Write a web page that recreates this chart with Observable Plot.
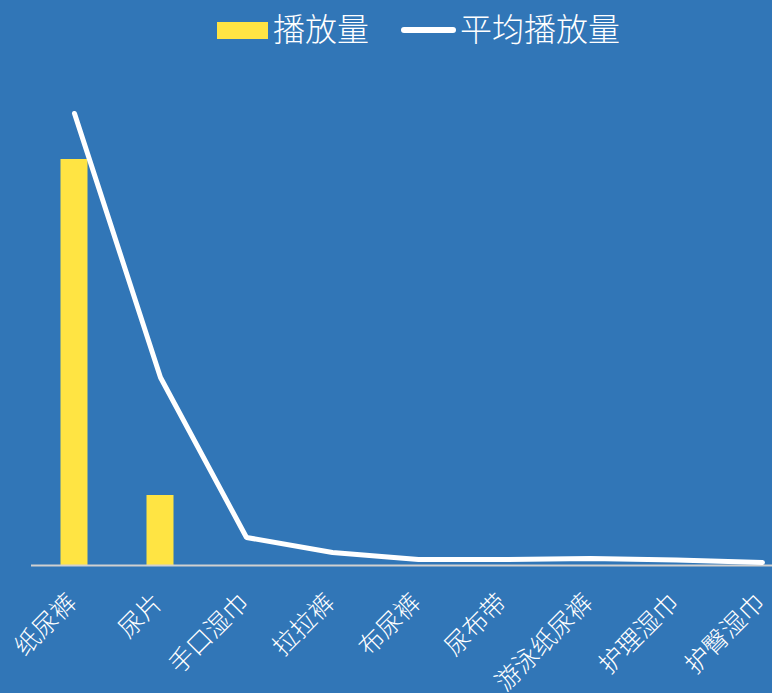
<!DOCTYPE html>
<html>
<head>
<meta charset="utf-8">
<script src="https://cdn.jsdelivr.net/npm/d3@7"></script>
<script src="https://cdn.jsdelivr.net/npm/@observablehq/plot@0.6"></script>
<style>
  html, body { margin: 0; padding: 0; background: #3176b7; overflow: hidden; width: 772px; height: 693px; }
  #legend { position: relative; width: 772px; height: 60px; font-family: "Noto Sans CJK SC", sans-serif; font-weight: 300; color: #fff; }
  #legend .sw-bar { position: absolute; left: 217px; top: 22px; width: 51px; height: 17px; background: #ffe443; }
  #legend .sw-line { position: absolute; left: 401px; top: 27px; width: 55px; height: 6px; border-radius: 3px; background: #fff; }
  #legend .lbl { position: absolute; font-size: 32px; line-height: 32px; top: 11px; white-space: nowrap; }
  #chart svg { display: block; }
</style>
</head>
<body>
<div id="legend">
  <div class="sw-bar"></div><span class="lbl" id="l1" style="left:273px"></span>
  <div class="sw-line"></div><span class="lbl" id="l2" style="left:460px"></span>
</div>
<div id="chart"></div>
<script>
const categories = ["纸尿裤", "尿片", "手口湿巾", "拉拉裤", "布尿裤", "尿布带", "游泳纸尿裤", "护理湿巾", "护臀湿巾"];
const plays = [4060, 700, 0, 0, 0, 0, 0, 0, 0];          // 播放量
const avgPlays = [4520, 1880, 280, 130, 60, 60, 70, 55, 30]; // 平均播放量
const seriesNames = ["播放量", "平均播放量"];

document.getElementById("l1").textContent = seriesNames[0];
document.getElementById("l2").textContent = seriesNames[1];

const data = categories.map((c, i) => ({cat: c, plays: plays[i], avg: avgPlays[i]}));

const W = 772, H = 633;
const chart = Plot.plot({
  width: W,
  height: H,
  marginLeft: 31,
  marginRight: 0,
  marginTop: 0,
  marginBottom: 128,
  style: {background: "transparent", overflow: "hidden", fontFamily: "'Noto Sans CJK SC', sans-serif"},
  x: {domain: categories, range: [31, 805], padding: 0, axis: null},
  y: {domain: [0, 5000], range: [505, 5], axis: null},
  marks: [
    Plot.barY(data, {x: "cat", y: "plays", fill: "#ffe443", insetLeft: 29.5, insetRight: 29.5}),
    Plot.ruleY([0], {stroke: "#d0d0d0", strokeWidth: 2}),
    Plot.line(data, {x: "cat", y: "avg", stroke: "#ffffff", strokeWidth: 5, strokeLinecap: "round", strokeLinejoin: "miter"}),
    Plot.text(data, {x: "cat", y: 0, text: "cat", rotate: -45, textAnchor: "end", fill: "#ffffff", fontSize: 25, fontWeight: 300, dx: -2, dy: 33})
  ]
});
document.getElementById("chart").appendChild(chart);
</script>
</body>
</html>
